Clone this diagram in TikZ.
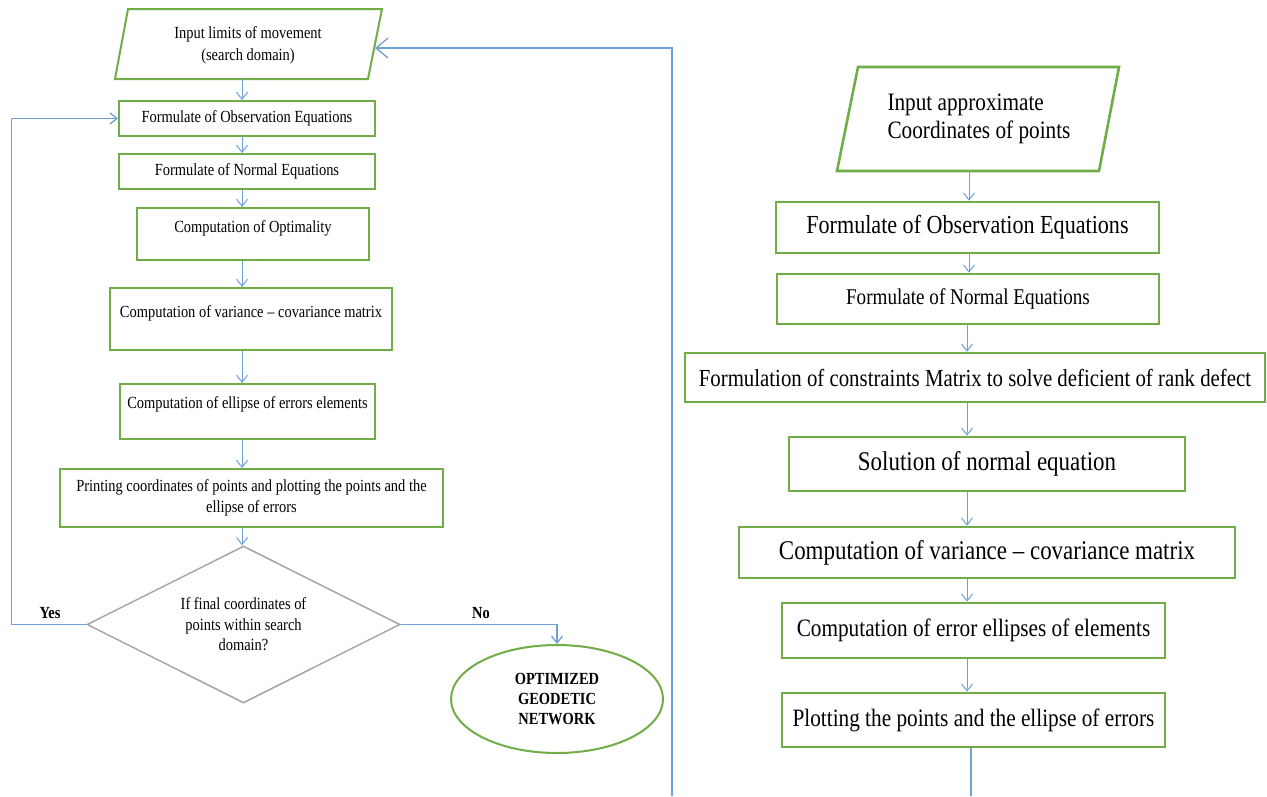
\documentclass[tikz,border=0pt]{standalone}
\usepackage{fontspec}
\setmainfont{Liberation Serif}[FakeStretch=0.85]
\usetikzlibrary{arrows.meta,shapes.geometric}
\definecolor{boxgreen}{HTML}{70AD47}
\definecolor{arrowblue}{HTML}{6FA0D8}
\definecolor{diagray}{HTML}{A6A6A6}
\newcommand\myLf{\fontsize{17}{21}\selectfont}
\newcommand\myBf{\fontsize{17}{20}\selectfont\bfseries}
\newcommand\myRf[1]{\fontsize{#1}{28}\selectfont}
\begin{document}
\begin{tikzpicture}[x=1pt,y=-1pt,
  gbox/.style={draw=boxgreen, line width=2pt, inner ysep=0pt, inner xsep=2pt, align=center, font=\myLf},
  rbox/.style={draw=boxgreen, line width=2.6pt, inner ysep=0pt, inner xsep=2pt, align=center},
  para/.style={draw=boxgreen, line width=2pt, line join=miter},
  arr/.style={draw=arrowblue, line width=1pt, -{Straight Barb[length=7pt,width=11pt]}},
  arrbig/.style={draw=arrowblue, line width=1.3pt, -{Straight Barb[length=12pt,width=20pt]}},
  plain/.style={draw=arrowblue, line width=1.3pt},
  lbl/.style={font=\myBf, inner sep=0pt}]
\useasboundingbox (0,0) rectangle (1267,796);
\fill[white] (0,0) rectangle (1267,796);

% ---------- left flowchart ----------
\draw[para] (128,9) -- (382,9) -- (368,79) -- (115,79) -- cycle;
\node[align=center, font=\fontsize{17}{22}\selectfont] (Lin) at (248,45) {Input limits of movement\\(search domain)};
\coordinate (Lpb) at (242,79);
\coordinate (Lpr) at (375,48);

\node[gbox, minimum width=256pt, minimum height=35pt] (L1) at (247,118.5) {Formulate of Observation Equations};
\node[gbox, minimum width=256pt, minimum height=35pt] (L2) at (247,171.5) {Formulate of Normal Equations};
\node[gbox, anchor=north, minimum width=232pt, text height=24pt, text depth=28pt] (L3) at (253,207) {Computation of Optimality};
\node[gbox, anchor=north, minimum width=282pt, text height=29pt, text depth=33pt] (L4) at (251,287) {Computation of variance -- covariance matrix};
\node[gbox, anchor=north, minimum width=255pt, text height=24pt, text depth=31pt] (L5) at (247.5,383) {Computation of ellipse of errors elements};
\node[gbox, minimum width=383pt, minimum height=58pt] (L6) at (251.5,498) {Printing coordinates of points and plotting the points and the\\ellipse of errors};

\node[diamond, draw=diagray, line width=1.5pt, minimum width=313pt, minimum height=157pt, aspect=2, inner sep=0pt, align=center, font=\fontsize{17}{20.5}\selectfont] (D) at (243.5,624.5) {If final coordinates of\\points within search\\domain?};

\node[ellipse, draw=boxgreen, line width=2pt, minimum width=212pt, minimum height=108pt, inner sep=0pt, align=center, font=\myBf] (E) at (557,699) {OPTIMIZED\\GEODETIC\\NETWORK};

\node[lbl] (yes) at (50,613) {Yes};
\node[lbl] (no) at (481,613) {No};

\draw[arr] (Lpb) -- (L1.north -| Lpb);
\draw[arr] (L1.south -| Lpb) -- (L2.north -| Lpb);
\draw[arr] (L2.south -| Lpb) -- (L3.north -| Lpb);
\draw[arr] (L3.south -| Lpb) -- (L4.north -| Lpb);
\draw[arr] (L4.south -| Lpb) -- (L5.north -| Lpb);
\draw[arr] (L5.south -| Lpb) -- (L6.north -| Lpb);
\draw[arr] (L6.south -| Lpb) -- (D.north -| Lpb);

\draw[arr, line width=1.3pt] (D.west) -- ++(-75,0) |- (L1.west);
\draw[arr, line width=1.3pt] (D.east) -| (E.north);

\coordinate (bot1) at (672,796);
\draw[arrbig] (bot1) |- (Lpr);

% ---------- right flowchart ----------
\draw[para, line width=2.6pt] (858,67) -- (1119,67) -- (1099,171) -- (837,171) -- cycle;
\node[align=left, font=\myRf{25}] (Rin) at (979,119) {Input approximate\\Coordinates of points};
\coordinate (Rpb) at (969,171);

\node[rbox, minimum width=383pt, minimum height=51pt, font=\myRf{26}] (R1) at (967.5,227.5) {Formulate of Observation Equations};
\node[rbox, minimum width=382pt, minimum height=50pt, font=\myRf{22.5}] (R2) at (968,299) {Formulate of Normal Equations};
\node[rbox, minimum width=580pt, minimum height=49pt, font=\myRf{24.5}] (R3) at (975,377.5) {Formulation of constraints Matrix to solve deficient of rank defect};
\node[rbox, minimum width=396pt, minimum height=54pt, font=\myRf{27}] (R4) at (987,464) {Solution of normal equation};
\node[rbox, minimum width=496pt, minimum height=51pt, font=\myRf{27}] (R5) at (987,552.5) {Computation of variance -- covariance matrix};
\node[rbox, minimum width=383pt, minimum height=55pt, font=\myRf{25}] (R6) at (973.5,630.5) {Computation of error ellipses of elements};
\node[rbox, minimum width=383pt, minimum height=54pt, font=\myRf{25}] (R7) at (973.5,720) {Plotting the points and the ellipse of errors};

\coordinate (Rx) at (967,0);
\draw[arr] (Rpb) -- (R1.north -| Rpb);
\draw[arr] (R1.south -| Rpb) -- (R2.north -| Rpb);
\draw[arr] (R2.south -| Rx) -- (R3.north -| Rx);
\draw[arr] (R3.south -| Rx) -- (R4.north -| Rx);
\draw[arr] (R4.south -| Rx) -- (R5.north -| Rx);
\draw[arr] (R5.south -| Rx) -- (R6.north -| Rx);
\draw[arr] (R6.south -| Rx) -- (R7.north -| Rx);

\coordinate (bot2) at (971,796);
\draw[plain] (R7.south -| bot2) -- (bot2);
\end{tikzpicture}
\end{document}
